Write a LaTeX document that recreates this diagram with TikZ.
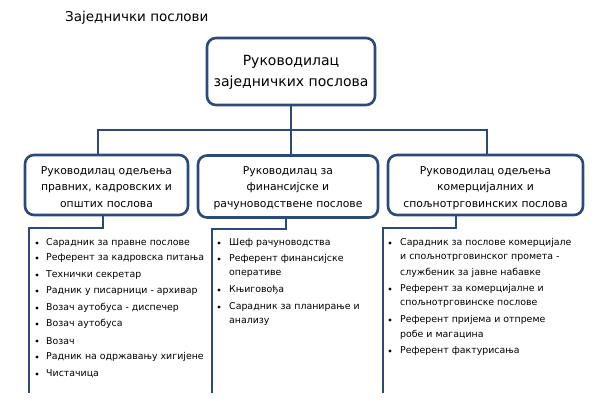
\documentclass[tikz,border=0pt]{standalone}
\usepackage{fontspec}
\setmainfont{DejaVu Sans}
\begin{document}
\begin{tikzpicture}[x=1pt,y=-1pt,
  ln/.style={draw=lc,line width=2.6pt},
  box/.style={draw=lc,line width=2.6pt,rounded corners=9pt,fill=white},
  bt/.style={align=center,font=\fontsize{10.8}{16.8}\selectfont,text=black},
  it/.style={anchor=west,inner sep=0pt,font=\fontsize{9.4}{10}\selectfont},
  bul/.style={fill=black,circle,inner sep=0pt,minimum size=3.2pt}]
\definecolor{lc}{HTML}{2B4A7A}
\useasboundingbox (0,0) rectangle (600,400);
\node[anchor=west,inner sep=0pt,font=\fontsize{13.5}{15}\selectfont] (title) at (65,18) {Заједнички послови};
\draw[ln] (291,105) -- (291,130) -- (98,130) -- (98,155);
\draw[ln] (291,130) -- (487,130) -- (487,155);
\draw[ln] (291,130) -- (291,155);
\node[box,minimum width=168pt,minimum height=67pt] (top) at (291,71.5) {};
\node[bt,font=\fontsize{14}{21}\selectfont] (topt) at (291,72) {Руководилац\\заједничких послова};
\node[box,minimum width=163pt,minimum height=60pt] (b1) at (106.5,185) {};
\node[box,minimum width=180pt,minimum height=62pt] (b2) at (288,186.5) {};
\node[box,minimum width=195pt,minimum height=60pt] (b3) at (485.5,185) {};
\node[bt] at (106.5,187) {Руководилац одељења\\правних, кадровских и\\општих послова};
\node[bt] at (288,188) {Руководилац за\\финансијске и\\рачуноводствене послове};
\node[bt] at (485.5,188) {Руководилац одељења\\комерцијалних и\\спољнотрговинских послова};
\coordinate (e1) at (29,393); \coordinate (e2) at (212,393); \coordinate (e3) at (383,393);
\draw[ln] (b1.south -| 103,0) -- (103,228) -- (29,228) -- (e1);
\draw[ln] (b2.south -| 286,0) -- (286,229) -- (212,229) -- (e2);
\draw[ln] (b3.south -| 456,0) -- (456,228) -- (383,228) -- (e3);
% list 1
\foreach \y/\t in {243/Сарадник за правне послове,258/Референт за кадровска питања,275/Технички секретар,291/Радник у писарници - архивар,308/Возач аутобуса - диспечер,324/Возач аутобуса,341/Возач,357/Радник на одржавању хигијене,374/Чистачица}{
  \node[bul] at (37,\y) {}; \node[it] at (46,\y) {\t};}
% list 2
\foreach \y/\t in {243/Шеф рачуноводства,259/Референт финансијске,290/Књиговођа,307/Сарадник за планирање и}{
  \node[bul] at (219,\y) {}; \node[it] at (229,\y) {\t};}
\node[it] at (229,274) {оперативе};
\node[it] at (229,322) {анализу};
% list 3
\foreach \y/\t in {243/Сарадник за послове комерцијале,289/Референт за комерцијалне и,320/Референт пријема и отпреме,351/Референт фактурисања}{
  \node[bul] at (390,\y) {}; \node[it] at (400,\y) {\t};}
\node[it] at (400,258) {и спољнотрговинског промета -};
\node[it] at (400,273) {службеник за јавне набавке};
\node[it] at (400,304) {спољнотрговинске послове};
\node[it] at (400,335) {робе и магацина};
\end{tikzpicture}
\end{document}
